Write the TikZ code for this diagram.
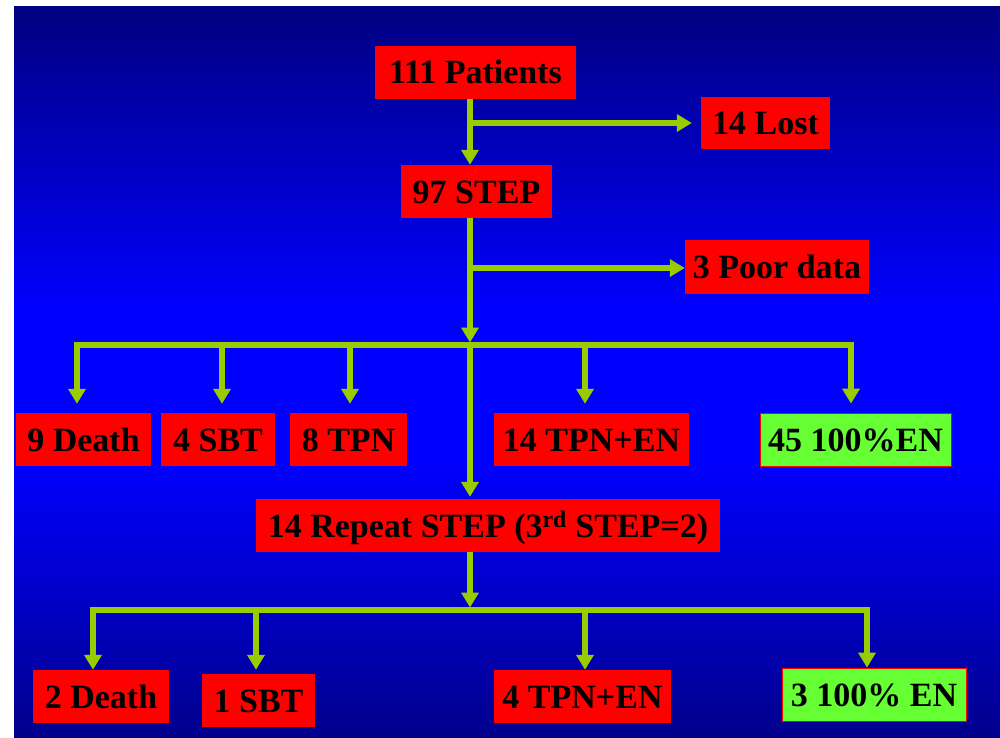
\documentclass[tikz,border=0pt]{standalone}
\usepackage{fontspec}
\setmainfont{Liberation Serif}
\usetikzlibrary{arrows.meta}
\definecolor{arrowgreen}{RGB}{153,204,0}
\definecolor{boxgreen}{RGB}{102,255,51}
\definecolor{navytop}{RGB}{0,0,128}
\definecolor{brightblue}{RGB}{0,0,255}
\definecolor{navybottom}{RGB}{0,0,140}
\tikzset{
	redbox/.style={shape=rectangle,fill=red,inner sep=0pt,minimum height=53pt,text height=23pt,text depth=0pt,font=\fontsize{34}{40}\selectfont\bfseries},
	greenbox/.style={redbox,fill=boxgreen,draw=red,line width=0.8pt},
	flow/.style={draw=arrowgreen,line width=5.5pt,-{Triangle[width=17pt,length=15pt]}},
	bar/.style={draw=arrowgreen,line width=5.5pt,line cap=rect}
}
\begin{document}
\begin{tikzpicture}[x=1pt,y=-1pt]
	\useasboundingbox (0,0) rectangle (1000,737);
	\fill[white] (0,0) rectangle (1000,737);
	\shade[top color=navytop,bottom color=brightblue] (14,6) rectangle (1000,311);
	\fill[brightblue] (14,310) rectangle (1000,461);
	\shade[top color=brightblue,bottom color=navybottom] (14,460) rectangle (1000,737);

	\node[redbox,minimum width=201pt] (p) at (475.5,72) {111 Patients};
	\node[redbox,minimum width=129pt,minimum height=52pt] (lost) at (765.5,123) {14 Lost};
	\node[redbox,minimum width=151pt] (st) at (476.5,191.5) {97 STEP};
	\node[redbox,minimum width=184pt,minimum height=54pt] (poor) at (777,267) {3 Poor data};

	\node[redbox,minimum width=135pt] (d1) at (83.5,439.5) {9 Death};
	\node[redbox,minimum width=114pt] (s1) at (218,439.5) {4 SBT};
	\node[redbox,minimum width=117pt] (t1) at (348.5,439.5) {8 TPN};
	\node[redbox,minimum width=195pt] (te1) at (591.5,439.5) {14 TPN+EN};
	\node[greenbox,minimum width=191pt] (e1) at (855.5,439.5) {45 100\%EN};

	\node[redbox,minimum width=464pt] (rep) at (488,525.5) {14 Repeat STEP (3\textsuperscript{rd} STEP=2)};

	\node[redbox,minimum width=136pt] (d2) at (101,696.5) {2 Death};
	\node[redbox,minimum width=113pt] (s2) at (258.5,700.5) {1 SBT};
	\node[redbox,minimum width=177pt] (te2) at (582.5,696.5) {4 TPN+EN};
	\node[greenbox,minimum width=184pt] (e2) at (874,694.5) {3 100\% EN};

	\coordinate (fork1) at (470,123);
	\coordinate (fork2) at (470,268);
	\coordinate (hub1) at (470,345);
	\coordinate (hub2) at (470,610);
	\coordinate (j1) at (77,345);
	\coordinate (j2) at (222,345);
	\coordinate (j3) at (350,345);
	\coordinate (j4) at (585,345);
	\coordinate (j5) at (851,345);
	\coordinate (k1) at (93,610);
	\coordinate (k2) at (256,610);
	\coordinate (k3) at (585,610);
	\coordinate (k4) at (867,610);

	\draw[flow] (p.south -| hub1) -- (st.north -| hub1);
	\draw[flow,shorten >=9pt] (fork1) -- (fork1 -| lost.west);
	\draw[flow] (fork2) -- (fork2 -| poor.west);
	\draw[flow,shorten >=2.5pt] (st.south -| hub1) -- (hub1);
	\draw[flow,shorten >=2pt] (hub1) -- (rep.north -| hub1);

	\draw[bar] (j1) -- (j5);
	\draw[flow,shorten >=9pt] (j1) -- (j1 |- d1.north);
	\draw[flow,shorten >=9pt] (j2) -- (j2 |- s1.north);
	\draw[flow,shorten >=9pt] (j3) -- (j3 |- t1.north);
	\draw[flow,shorten >=9pt] (j4) -- (j4 |- te1.north);
	\draw[flow,shorten >=9pt] (j5) -- (j5 |- e1.north);

	\draw[flow,shorten >=2.5pt] (rep.south -| hub2) -- (hub2);
	\draw[bar] (k1) -- (k4);
	\draw[flow] (k1) -- (k1 |- d2.north);
	\draw[flow,shorten >=4pt] (k2) -- (k2 |- s2.north);
	\draw[flow] (k3) -- (k3 |- te2.north);
	\draw[flow] (k4) -- (k4 |- e2.north);
\end{tikzpicture}
\end{document}
